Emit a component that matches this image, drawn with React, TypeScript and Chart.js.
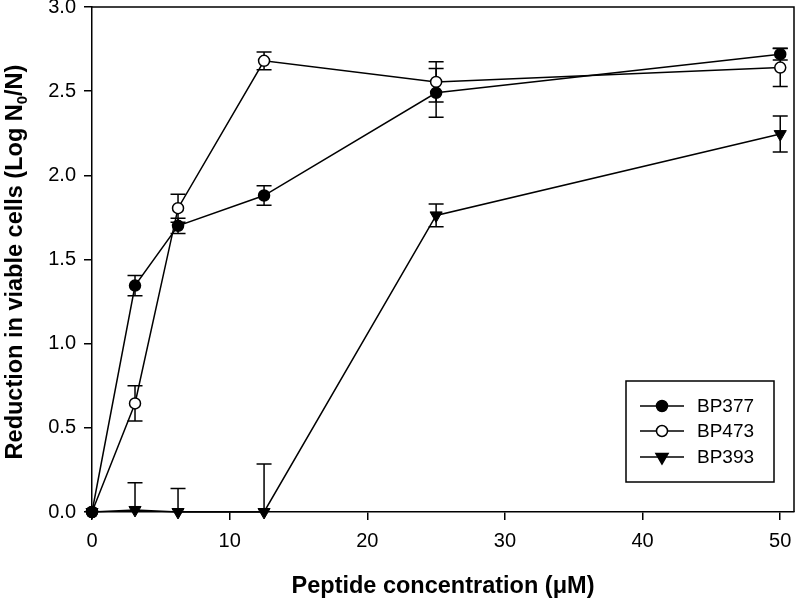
import React, { useEffect, useRef } from 'react';
import { Chart, registerables } from 'chart.js';

Chart.register(...registerables);

const xValues = [0, 3.125, 6.25, 12.5, 25, 50];
const seriesLabels = ['BP377', 'BP473', 'BP393'];
const bp377 = [0, 1.345, 1.7, 1.88, 2.49, 2.72];
const bp377Err = [0, 0.06, 0.045, 0.058, 0.145, 0.035];
const bp473 = [0, 0.645, 1.805, 2.68, 2.555, 2.64];
const bp473Err = [0, 0.105, 0.083, 0.053, 0.12, 0.113];
const bp393 = [0, 0.012, 0, 0, 1.762, 2.245];
const bp393Err = [0, 0.162, 0.14, 0.285, 0.067, 0.107];
const xTicks = [0, 10, 20, 30, 40, 50];
const yTicks = [0, 0.5, 1, 1.5, 2, 2.5, 3];
const xTitle = 'Peptide concentration (\u03BCM)';
const yTitleParts = ['Reduction in viable cells (Log N', '0', '/N)'];

const FONT = '"Liberation Sans", Arial, Helvetica, sans-serif';

export default function App() {
  const ref = useRef<HTMLCanvasElement>(null);

  useEffect(() => {
    const canvas = ref.current;
    if (!canvas) return;
    const errs = [bp377Err, bp473Err, bp393Err];
    const series = [bp377, bp473, bp393];

    const errorBars = {
      id: 'errorBars',
      beforeDatasetsDraw(chart: any) {
        const { ctx, chartArea, scales } = chart;
        const y = scales.y;
        ctx.save();
        ctx.beginPath();
        ctx.rect(chartArea.left, chartArea.top, chartArea.right - chartArea.left, chartArea.bottom - chartArea.top);
        ctx.clip();
        ctx.strokeStyle = '#000';
        ctx.lineWidth = 1.5;
        chart.data.datasets.forEach((ds: any, i: number) => {
          const meta = chart.getDatasetMeta(i);
          meta.data.forEach((pt: any, j: number) => {
            const e = errs[i][j];
            if (!e) return;
            const v = series[i][j];
            const yTop = y.getPixelForValue(v + e);
            const yBot = y.getPixelForValue(v - e);
            const x = pt.x;
            ctx.beginPath();
            ctx.moveTo(x, yTop);
            ctx.lineTo(x, yBot);
            ctx.moveTo(x - 7.5, yTop);
            ctx.lineTo(x + 7.5, yTop);
            ctx.moveTo(x - 7.5, yBot);
            ctx.lineTo(x + 7.5, yBot);
            ctx.stroke();
          });
        });
        ctx.restore();
      },
    };

    const drawMarker = (ctx: CanvasRenderingContext2D, kind: number, x: number, y: number) => {
      ctx.save();
      ctx.lineWidth = 1.5;
      ctx.strokeStyle = '#000';
      ctx.beginPath();
      if (kind === 2) {
        const r = 7;
        ctx.moveTo(x, y + r);
        ctx.lineTo(x - r * Math.sin(Math.PI / 3), y - r / 2);
        ctx.lineTo(x + r * Math.sin(Math.PI / 3), y - r / 2);
        ctx.closePath();
        ctx.fillStyle = '#000';
      } else {
        ctx.arc(x, y, 5.5, 0, Math.PI * 2);
        ctx.fillStyle = kind === 0 ? '#000' : '#fff';
      }
      ctx.fill();
      ctx.stroke();
      ctx.restore();
    };

    const decor = {
      id: 'decor',
      afterDraw(chart: any) {
        const { ctx, chartArea } = chart;
        ctx.save();
        ctx.strokeStyle = '#000';
        ctx.lineWidth = 1.5;
        ctx.beginPath();
        ctx.moveTo(chartArea.left, chartArea.top);
        ctx.lineTo(chartArea.right, chartArea.top);
        ctx.lineTo(chartArea.right, chartArea.bottom);
        ctx.stroke();

        // legend
        const lx = 626, ly = 381, lw = 148, lh = 101;
        ctx.fillStyle = '#fff';
        ctx.fillRect(lx, ly, lw, lh);
        ctx.strokeRect(lx, ly, lw, lh);
        const rows = [406, 431, 457];
        ctx.font = `19px ${FONT}`;
        ctx.textBaseline = 'middle';
        ctx.textAlign = 'left';
        seriesLabels.forEach((lab, i) => {
          const ry = rows[i];
          ctx.beginPath();
          ctx.lineWidth = 1.5;
          ctx.moveTo(640, ry);
          ctx.lineTo(684, ry);
          ctx.stroke();
          drawMarker(ctx, i, 662, ry);
          ctx.fillStyle = '#000';
          ctx.fillText(lab, 697, ry + 1);
        });

        // x title
        ctx.font = `bold 23.5px ${FONT}`;
        ctx.textAlign = 'center';
        ctx.textBaseline = 'alphabetic';
        ctx.fillStyle = '#000';
        ctx.fillText(xTitle, (chartArea.left + chartArea.right) / 2, 593);

        // y title with subscript
        ctx.translate(22, 262);
        ctx.rotate(-Math.PI / 2);
        const big = `bold 23.5px ${FONT}`;
        const small = `bold 15px ${FONT}`;
        ctx.font = big;
        const w0 = ctx.measureText(yTitleParts[0]).width;
        const w2 = ctx.measureText(yTitleParts[2]).width;
        ctx.font = small;
        const w1 = ctx.measureText(yTitleParts[1]).width;
        let cx = -(w0 + w1 + w2) / 2;
        ctx.textAlign = 'left';
        ctx.font = big;
        ctx.fillText(yTitleParts[0], cx, 0);
        cx += w0;
        ctx.font = small;
        ctx.fillText(yTitleParts[1], cx, 5);
        cx += w1;
        ctx.font = big;
        ctx.fillText(yTitleParts[2], cx, 0);
        ctx.restore();
      },
    };

    const chart = new Chart(canvas, {
      type: 'line',
      data: {
        datasets: [
          {
            label: seriesLabels[0],
            data: xValues.map((x, i) => ({ x, y: bp377[i] })),
            borderColor: '#000',
            borderWidth: 1.5,
            pointStyle: 'circle',
            pointRadius: 5.5,
            pointBackgroundColor: '#000',
            pointBorderColor: '#000',
            pointBorderWidth: 1.5,
            clip: false as any,
          },
          {
            label: seriesLabels[1],
            data: xValues.map((x, i) => ({ x, y: bp473[i] })),
            borderColor: '#000',
            borderWidth: 1.5,
            pointStyle: 'circle',
            pointRadius: 5.5,
            pointBackgroundColor: '#fff',
            pointBorderColor: '#000',
            pointBorderWidth: 1.5,
            clip: false as any,
          },
          {
            label: seriesLabels[2],
            data: xValues.map((x, i) => ({ x, y: bp393[i] })),
            borderColor: '#000',
            borderWidth: 1.5,
            pointStyle: 'triangle',
            pointRotation: 180,
            pointRadius: 7,
            pointBackgroundColor: '#000',
            pointBorderColor: '#000',
            pointBorderWidth: 1,
            clip: false as any,
          },
        ],
      },
      options: {
        responsive: false,
        animation: false,
        devicePixelRatio: 1,
        layout: { autoPadding: false, padding: { left: 0, right: 1, top: 7, bottom: 0 } },
        plugins: {
          legend: { display: false },
          tooltip: { enabled: false },
        },
        elements: { line: { tension: 0 } },
        scales: {
          x: {
            type: 'linear',
            min: 0,
            max: 51,
            afterBuildTicks: (s: any) => {
              s.ticks = xTicks.map((v) => ({ value: v }));
            },
            afterFit: (s: any) => {
              s.height = 87;
              s.paddingLeft = 0;
              s.paddingRight = 0;
            },
            grid: { drawOnChartArea: false, drawTicks: true, tickLength: 8, color: '#000', lineWidth: 1.5 },
            border: { display: true, color: '#000', width: 1.5 },
            ticks: {
              color: '#000',
              font: { family: FONT, size: 20 },
              padding: 9,
              maxRotation: 0,
              callback: (v: any) => String(v),
            },
          },
          y: {
            type: 'linear',
            min: 0,
            max: 3,
            afterBuildTicks: (s: any) => {
              s.ticks = yTicks.map((v) => ({ value: v }));
            },
            afterFit: (s: any) => {
              s.width = 92;
              s.paddingTop = 0;
              s.paddingBottom = 0;
            },
            grid: { drawOnChartArea: false, drawTicks: true, tickLength: 8, color: '#000', lineWidth: 1.5 },
            border: { display: true, color: '#000', width: 1.5 },
            ticks: {
              color: '#000',
              font: { family: FONT, size: 20 },
              padding: 8,
              callback: (v: any) => Number(v).toFixed(1),
            },
          },
        },
      },
      plugins: [errorBars, decor],
    } as any);

    return () => chart.destroy();
  }, []);

  return (
    <div style={{ position: 'absolute', left: 0, top: 0, width: 795, height: 599, background: '#fff' }}>
      <canvas ref={ref} width={795} height={599} style={{ display: 'block', width: 795, height: 599 }} />
    </div>
  );
}
